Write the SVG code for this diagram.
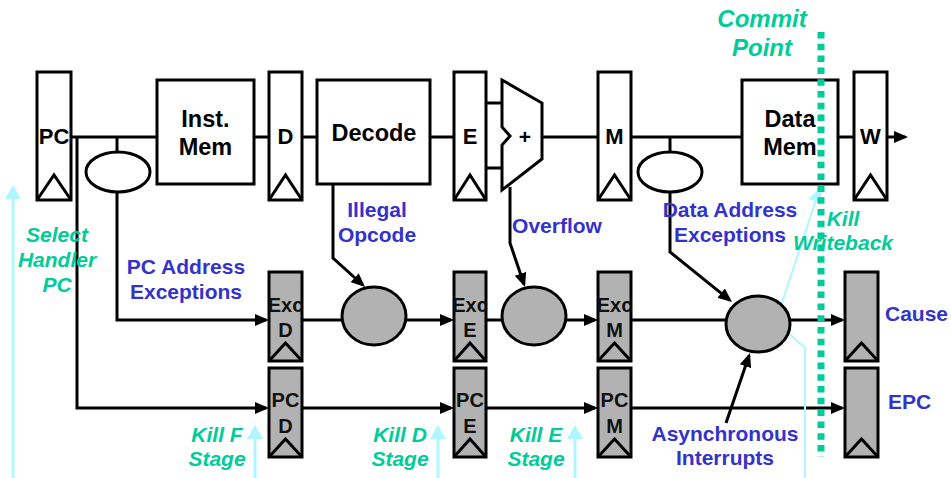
<svg xmlns="http://www.w3.org/2000/svg" width="951" height="478" viewBox="0 0 951 478">
<defs>
<style>
.box{fill:#fff;stroke:#000;stroke-width:3}
.reg{fill:#fff;stroke:#000;stroke-width:3}
.greg{fill:#b2b2b2;stroke:#000;stroke-width:3}
.clk{fill:none;stroke:#000;stroke-width:3}
.ln{fill:none;stroke:#000;stroke-width:3}
.ar{fill:none;stroke:#000;stroke-width:3;marker-end:url(#ah)}
.cy{fill:none;stroke:#b0f6ff;stroke-width:3}
.cya{fill:none;stroke:#b0f6ff;stroke-width:3;marker-end:url(#cah)}
.ell{fill:#fff;stroke:#000;stroke-width:3}
.gell{fill:#b2b2b2;stroke:#000;stroke-width:3}
text{font-family:"Liberation Sans",Arial,sans-serif;font-weight:bold}
.lbl{font-size:23.5px;fill:#000;text-anchor:middle}
.rl{font-size:22px;fill:#000;text-anchor:middle}
.gl{font-size:20px;fill:#111;text-anchor:middle}
.bl{font-size:21px;fill:#3333cc;text-anchor:middle}
.gr{font-size:21px;fill:#00cc99;font-style:italic;text-anchor:middle}
</style>
<marker id="ah" viewBox="0 0 14 12" refX="11" refY="6" markerWidth="14" markerHeight="12" markerUnits="userSpaceOnUse" orient="auto">
<path d="M0,0 L14,6 L0,12 z" fill="#000"/>
</marker>
<marker id="cah" viewBox="0 0 14 16" refX="11" refY="8" markerWidth="14" markerHeight="16" markerUnits="userSpaceOnUse" orient="auto">
<path d="M0,0 L14,8 L0,16 z" fill="#b0f6ff"/>
</marker>
</defs>

<g id="connectors">
<path class="ln" d="M71,137 H157"/>
<path class="ln" d="M254,137 H269"/>
<path class="ln" d="M302,137 H317"/>
<path class="ln" d="M430,137 H454"/>
<path class="ln" d="M486,103 H502 M486,168 H502"/>
<path class="ln" d="M542,137 H598"/>
<path class="ln" d="M631,137 H742"/>
<path class="ln" d="M838,137 H854"/>
<path class="ar" d="M887,137 H905"/>
<path class="ln" d="M117,137 V152"/>
<path class="ln" d="M670,137 V152"/>
<path class="ar" d="M117,192 V320 H266"/>
<path class="ar" d="M77,137 V408 H266"/>
<path class="ln" d="M302,320 H342"/>
<path class="ar" d="M406,320 H451"/>
<path class="ln" d="M486,320 H502"/>
<path class="ar" d="M566,320 H595"/>
<path class="ln" d="M631,320 H726"/>
<path class="ar" d="M790,320 H842"/>
<path class="ar" d="M302,408 H451"/>
<path class="ar" d="M486,408 H595"/>
<path class="ar" d="M631,408 H842"/>
<path class="ar" d="M333,184 V258 L362.8,285"/>
<path class="ar" d="M510,187 V243 L524,284.2"/>
<path class="ar" d="M670,192 V252 L729.7,300.1"/>
<path class="ar" d="M726,423 L749,355.8"/>
<path class="cya" d="M13,478 V188"/>
<path class="cya" d="M255,478 V428"/>
<path class="cya" d="M438,478 V428"/>
<path class="cya" d="M575,478 V428"/>
<path class="cya" style="stroke-width:2" d="M782,303 L819,191"/>
<path class="cy" style="stroke-width:2" d="M783,328 L805,348 V478"/>
</g>

<g id="pc"><rect class="reg" x="37" y="72" width="34" height="128"/><path class="clk" d="M37,200 L54,175 L71,200"/><text class="rl" x="54" y="144">PC</text></g>
<g id="instmem"><rect class="box" x="157" y="80" width="97" height="104"/><text class="lbl" x="205.5" y="127">Inst.</text><text class="lbl" x="205.5" y="155">Mem</text></g>
<g id="regD"><rect class="reg" x="269" y="72" width="33" height="128"/><path class="clk" d="M269,200 L285.5,175 L302,200"/><text class="rl" x="285.5" y="144">D</text></g>
<g id="decode"><rect class="box" x="317" y="80" width="113" height="104"/><text class="lbl" x="374" y="141">Decode</text></g>
<g id="regE"><rect class="reg" x="454" y="72" width="32" height="128"/><path class="clk" d="M454,200 L470,175 L486,200"/><text class="rl" x="470" y="144">E</text></g>
<g id="alu"><path class="box" d="M502,80 L542,103 L542,159 L502,190 L502,145 L510,136 L502,127 z"/><text x="525" y="144" style="font-size:21px;text-anchor:middle">+</text></g>
<g id="regM"><rect class="reg" x="598" y="72" width="33" height="128"/><path class="clk" d="M598,200 L614.5,175 L631,200"/><text class="rl" x="614.5" y="144">M</text></g>
<g id="datamem"><rect class="box" x="742" y="80" width="96" height="104"/><text class="lbl" x="790" y="127">Data</text><text class="lbl" x="790" y="155">Mem</text></g>
<g id="regW"><rect class="reg" x="854" y="72" width="33" height="128"/><path class="clk" d="M854,200 L870.5,175 L887,200"/><text class="rl" x="870.5" y="144">W</text></g>

<g id="pcchk"><ellipse class="ell" cx="118" cy="172" rx="32" ry="20"/></g>
<g id="datachk"><ellipse class="ell" cx="670" cy="172" rx="32" ry="20"/></g>

<g id="excD"><rect class="greg" x="269" y="272" width="33" height="89"/><path class="clk" d="M269,361 L285.5,343 L302,361"/><text class="gl" x="285.5" y="312">Exc</text><text class="gl" x="285.5" y="337">D</text></g>
<g id="pcD"><rect class="greg" x="269" y="368" width="33" height="89"/><path class="clk" d="M269,457 L285.5,439 L302,457"/><text class="gl" x="285.5" y="407">PC</text><text class="gl" x="285.5" y="433">D</text></g>
<g id="excE"><rect class="greg" x="454" y="272" width="32" height="89"/><path class="clk" d="M454,361 L470,343 L486,361"/><text class="gl" x="470" y="312">Exc</text><text class="gl" x="470" y="337">E</text></g>
<g id="pcE"><rect class="greg" x="454" y="368" width="32" height="89"/><path class="clk" d="M454,457 L470,439 L486,457"/><text class="gl" x="470" y="407">PC</text><text class="gl" x="470" y="433">E</text></g>
<g id="excM"><rect class="greg" x="598" y="272" width="33" height="89"/><path class="clk" d="M598,361 L614.5,343 L631,361"/><text class="gl" x="614.5" y="312">Exc</text><text class="gl" x="614.5" y="337">M</text></g>
<g id="pcM"><rect class="greg" x="598" y="368" width="33" height="89"/><path class="clk" d="M598,457 L614.5,439 L631,457"/><text class="gl" x="614.5" y="407">PC</text><text class="gl" x="614.5" y="433">M</text></g>
<g id="cause"><rect class="greg" x="845" y="272" width="33" height="89"/><path class="clk" d="M845,361 L861.5,343 L878,361"/></g>
<g id="epc"><rect class="greg" x="845" y="368" width="33" height="89"/><path class="clk" d="M845,457 L861.5,439 L878,457"/></g>

<g id="or1"><ellipse class="gell" cx="374" cy="316" rx="32" ry="29"/></g>
<g id="or2"><ellipse class="gell" cx="534" cy="316" rx="32" ry="29"/></g>
<g id="or3"><ellipse class="gell" cx="758" cy="324" rx="32" ry="28"/></g>

<g id="commit"><path d="M821,32 V457" fill="none" stroke="#00cc99" stroke-width="7" stroke-dasharray="6.5 5.3"/></g>

<g id="labels">
<text class="gr" style="font-size:24px" x="762" y="27">Commit</text>
<text class="gr" style="font-size:24px" x="762" y="56">Point</text>
<text class="bl" x="377" y="217">Illegal</text>
<text class="bl" x="377" y="242">Opcode</text>
<text class="bl" x="557" y="233">Overflow</text>
<text class="bl" x="186" y="274">PC Address</text>
<text class="bl" x="186" y="299">Exceptions</text>
<text class="bl" x="730" y="217">Data Address</text>
<text class="bl" x="730" y="242">Exceptions</text>
<text class="bl" x="885" y="321" style="text-anchor:start">Cause</text>
<text class="bl" x="888" y="409" style="text-anchor:start">EPC</text>
<text class="bl" x="725" y="441">Asynchronous</text>
<text class="bl" x="725" y="465">Interrupts</text>
<text class="gr" x="57" y="242">Select</text>
<text class="gr" x="57" y="267">Handler</text>
<text class="gr" x="57" y="292">PC</text>
<text class="gr" x="217" y="442">Kill F</text>
<text class="gr" x="217" y="466">Stage</text>
<text class="gr" x="400" y="442">Kill D</text>
<text class="gr" x="400" y="466">Stage</text>
<text class="gr" x="536" y="442">Kill E</text>
<text class="gr" x="536" y="466">Stage</text>
<text class="gr" x="843" y="226">Kill</text>
<text class="gr" x="843" y="250">Writeback</text>
</g>
</svg>
